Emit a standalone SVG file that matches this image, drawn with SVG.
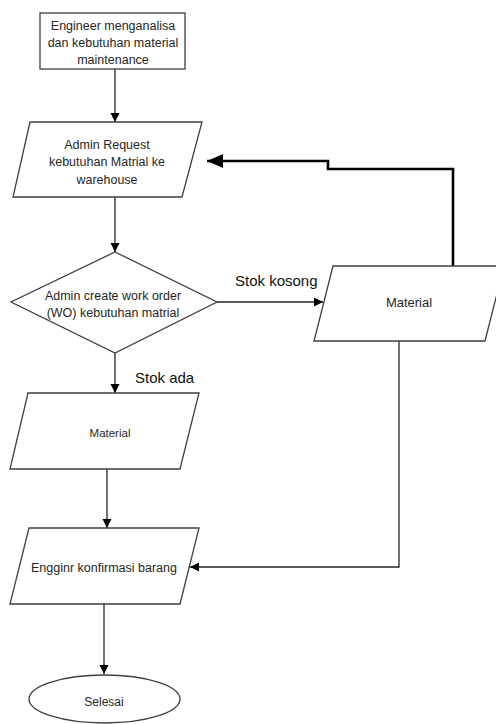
<svg xmlns="http://www.w3.org/2000/svg" width="496" height="724" viewBox="0 0 496 724">
<style>
.shape{fill:#fff;stroke:#3f3f3f;stroke-width:1.3}
.conn{fill:none;stroke:#262626;stroke-width:1.3}
.thick{fill:none;stroke:#000;stroke-width:2.6}
text{font-family:"Liberation Sans",Arial,sans-serif;fill:#262626;text-anchor:middle}
.t{font-size:12.5px}
.lbl{font-size:15px;fill:#111;text-anchor:start}
</style>
<defs>
<marker id="arr" markerUnits="userSpaceOnUse" markerWidth="10" markerHeight="10" refX="9" refY="4.5" orient="auto">
<path d="M0,0 L9,4.5 L0,9 Z" fill="#000"/>
</marker>
<marker id="arrBig" markerUnits="userSpaceOnUse" markerWidth="18" markerHeight="16" refX="16" refY="7" orient="auto">
<path d="M0,0 L16,7 L0,14 Z" fill="#000"/>
</marker>
</defs>
<rect width="496" height="724" fill="#fff"/>
<g id="connectors">
<path class="conn" d="M115,69 V122" marker-end="url(#arr)"/>
<path class="conn" d="M115,197 V252" marker-end="url(#arr)"/>
<path class="conn" d="M115,353 V393" marker-end="url(#arr)"/>
<path class="conn" d="M217,302 H323" marker-end="url(#arr)"/>
<path class="thick" d="M453,266 V169 H328 V161 H207" marker-end="url(#arrBig)"/>
<path class="conn" d="M107,469 V528" marker-end="url(#arr)"/>
<path class="conn" d="M399,341 V567 H190" marker-end="url(#arr)"/>
<path class="conn" d="M104,604 V674" marker-end="url(#arr)"/>
</g>
<g id="n1">
<rect class="shape" x="40" y="13" width="145" height="56"/>
<text class="t" x="113" y="29.5">Engineer menganalisa</text>
<text class="t" x="113" y="46.5">dan kebutuhan material</text>
<text class="t" x="113" y="63.5">maintenance</text>
</g>
<g id="n2">
<polygon class="shape" points="30,122 202,122 182,197 13,197"/>
<text class="t" x="107" y="149">Admin Request</text>
<text class="t" x="107" y="166">kebutuhan Matrial ke</text>
<text class="t" x="107" y="184">warehouse</text>
</g>
<g id="n3">
<polygon class="shape" points="115,252 217,302 115,353 11,302"/>
<text class="t" x="113" y="299.5">Admin create work order</text>
<text class="t" x="113" y="317">(WO) kebutuhan matrial</text>
</g>
<g id="n4">
<polygon class="shape" points="28,393 199,393 180,469 10,469"/>
<text x="110" y="436.5" style="font-size:11.5px">Material</text>
</g>
<g id="n5">
<polygon class="shape" points="333,266 504,266 485,341 314,341"/>
<text x="409" y="307" style="font-size:13px">Material</text>
</g>
<g id="n6">
<polygon class="shape" points="29,528 199,528 180,604 10,604"/>
<text class="t" x="104" y="571.5">Engginr konfirmasi barang</text>
</g>
<g id="n7">
<ellipse class="shape" cx="104.5" cy="699" rx="75.5" ry="24"/>
<text x="104" y="705.5" style="font-size:12px">Selesai</text>
</g>
<g id="labels">
<text class="lbl" x="235" y="285.5">Stok kosong</text>
<text class="lbl" x="135" y="382.5">Stok ada</text>
</g>
</svg>
